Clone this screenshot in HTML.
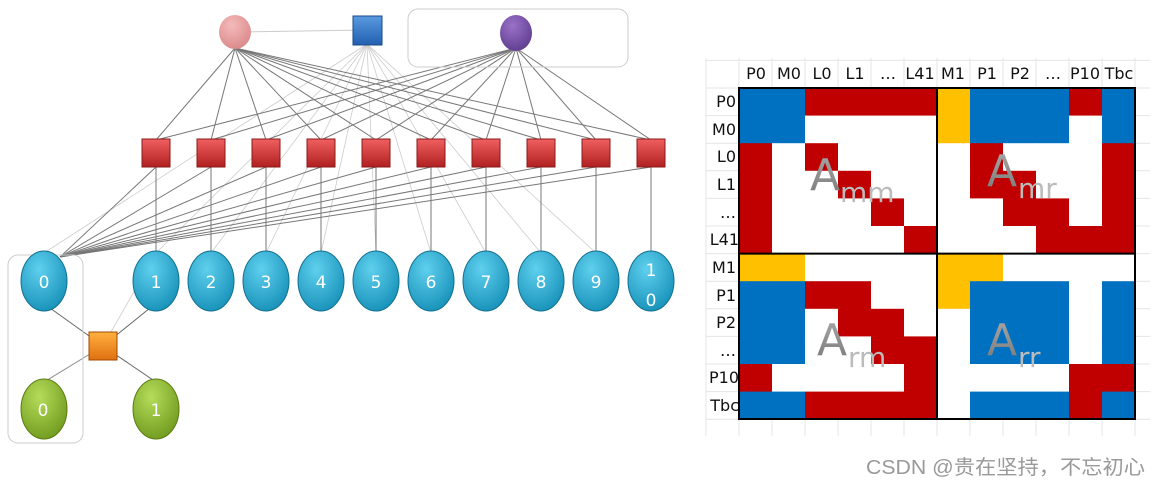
<!DOCTYPE html>
<html><head><meta charset="utf-8"><style>
html,body{margin:0;padding:0;background:#fff;width:1162px;height:486px;overflow:hidden}
svg{display:block}
text{font-family:"DejaVu Sans","Liberation Sans",sans-serif}
</style></head><body>
<svg id="s" width="1162" height="486" viewBox="0 0 1162 486" xmlns="http://www.w3.org/2000/svg">
<defs>
<radialGradient id="gc" cx="40%" cy="30%" r="75%"><stop offset="0" stop-color="#5fd0ee"/><stop offset="1" stop-color="#1690b8"/></radialGradient>
<radialGradient id="gg" cx="40%" cy="30%" r="75%"><stop offset="0" stop-color="#b6dc5a"/><stop offset="1" stop-color="#6f9a1e"/></radialGradient>
<radialGradient id="gp" cx="40%" cy="30%" r="75%"><stop offset="0" stop-color="#f5baba"/><stop offset="1" stop-color="#d98888"/></radialGradient>
<radialGradient id="gv" cx="40%" cy="30%" r="75%"><stop offset="0" stop-color="#9a72c8"/><stop offset="1" stop-color="#5e3c8e"/></radialGradient>
<linearGradient id="gr" x1="0" y1="0" x2="0" y2="1"><stop offset="0" stop-color="#f06060"/><stop offset="1" stop-color="#b02020"/></linearGradient>
<linearGradient id="gb" x1="0" y1="0" x2="0" y2="1"><stop offset="0" stop-color="#5a9ae0"/><stop offset="1" stop-color="#2060b0"/></linearGradient>
<linearGradient id="go" x1="0" y1="0" x2="0" y2="1"><stop offset="0" stop-color="#ffb040"/><stop offset="1" stop-color="#e07010"/></linearGradient>
<linearGradient id="ga" x1="0" y1="0" x2="0" y2="1"><stop offset="0" stop-color="#aaa"/><stop offset="1" stop-color="#777"/></linearGradient>
</defs>
<g id="grid"></g>
<g id="cells"></g>
<g id="lines"></g>
<rect x="408" y="9" width="220" height="58" rx="10" fill="none" stroke="#ccc"/>
<rect x="8" y="255" width="75" height="188" rx="10" fill="none" stroke="#ccc"/>
<g id="nodes"></g>
<g font-size="17" fill="#fff" text-anchor="middle">
<text x="44" y="288">0</text><text x="156" y="288">1</text><text x="211" y="288">2</text><text x="266" y="288">3</text><text x="321" y="288">4</text><text x="376" y="288">5</text><text x="431" y="288">6</text><text x="486" y="288">7</text><text x="541" y="288">8</text><text x="596" y="288">9</text><text x="651" y="276">1</text><text x="651" y="306">0</text>
<text x="43" y="416">0</text><text x="156" y="416">1</text>
</g>
<g font-size="16" fill="#111" text-anchor="middle">
<text x="756" y="79">P0</text><text x="789" y="79">M0</text><text x="822" y="79">L0</text><text x="855" y="79">L1</text><text x="888" y="79">…</text><text x="920" y="79">L41</text><text x="953" y="79">M1</text><text x="987" y="79">P1</text><text x="1020" y="79">P2</text><text x="1053" y="79">…</text><text x="1085" y="79">P10</text><text x="1119" y="79">Tbc</text>
</g>
<g font-size="16" fill="#111" text-anchor="end">
<text x="736" y="107">P0</text><text x="736" y="135">M0</text><text x="736" y="162">L0</text><text x="736" y="190">L1</text><text x="736" y="218">…</text><text x="739" y="245">L41</text><text x="736" y="273">M1</text><text x="736" y="301">P1</text><text x="736" y="328">P2</text><text x="736" y="356">…</text><text x="739" y="383">P10</text><text x="739" y="411">Tbc</text>
</g>
<g fill="url(#ga)">
<text x="810" y="190" font-size="44">A</text><text x="840" y="202" font-size="28" fill="#bbb">mm</text>
<text x="987" y="186" font-size="44">A</text><text x="1018" y="198" font-size="28" fill="#bbb">mr</text>
<text x="817" y="355" font-size="44">A</text><text x="848" y="367" font-size="28" fill="#bbb">rm</text>
<text x="987" y="355" font-size="44">A</text><text x="1018" y="367" font-size="28" fill="#bbb">rr</text>
</g>
<text x="866" y="474" font-size="20" textLength="279" lengthAdjust="spacingAndGlyphs" fill="#999" style='font-family:"Liberation Sans","Noto Sans CJK SC",sans-serif'>CSDN @贵在坚持，不忘初心</text>
</svg>
<script>
var NS="http://www.w3.org/2000/svg";
function el(p,t,a){var e=document.createElementNS(NS,t);for(var k in a)e.setAttribute(k,a[k]);document.getElementById(p).appendChild(e);return e;}
function L(x1,y1,x2,y2,c,w){el("lines","line",{x1:x1,y1:y1,x2:x2,y2:y2,stroke:c,"stroke-width":w||1});}
var rx=[156,211,266,321,376,431,486,541,596,651];
var cx=[44,156,211,266,321,376,431,486,541,596,651];
L(235,32,367,30,"#ccc");
for(var i=0;i<10;i++)L(367,44,cx[i],253,"#ccc",0.8);
L(156,253,103,346,"#ccc",0.8);
for(var i=0;i<10;i++){L(235,48,rx[i],140,"#777");L(516,48,rx[i],140,"#777");
 L(rx[i],167,cx[i+1],252,"#777");L(rx[i],167,60,257,"#777");}
L(50,308,103,346,"#666");L(150,308,103,346,"#666");L(103,346,44,382,"#888");L(103,346,156,382,"#666");
el("nodes","ellipse",{cx:235,cy:32,rx:16,ry:17,fill:"url(#gp)"});
el("nodes","rect",{x:353,y:16,width:29,height:29,fill:"url(#gb)",stroke:"#1a4a8a"});
el("nodes","ellipse",{cx:516,cy:33,rx:16,ry:18,fill:"url(#gv)"});
for(var i=0;i<10;i++)el("nodes","rect",{x:rx[i]-14,y:139,width:28,height:28,fill:"url(#gr)",stroke:"#8a1a1a"});
for(var i=0;i<11;i++)el("nodes","ellipse",{cx:cx[i],cy:281,rx:23,ry:30,fill:"url(#gc)",stroke:"#127090"});
el("nodes","rect",{x:89,y:332,width:28,height:28,fill:"url(#go)",stroke:"#a04a00"});
el("nodes","ellipse",{cx:44,cy:409,rx:23,ry:30,fill:"url(#gg)",stroke:"#5a7a10"});
el("nodes","ellipse",{cx:156,cy:409,rx:23,ry:30,fill:"url(#gg)",stroke:"#5a7a10"});
var X0=739,Y0=88,CW=33,RH=27.6;
for(var k=-1;k<=12;k++){el("grid","line",{x1:X0+k*CW,y1:58,x2:X0+k*CW,y2:436,stroke:"#e4e4e4"});}
for(var k=-1;k<=12;k++){el("grid","line",{x1:706,y1:Y0+k*RH,x2:1150,y2:Y0+k*RH,stroke:"#e4e4e4"});}
var M=["BBRRRRYBBBRB","BBWWWWYBBBWB","RWRWWWWRWWWR","RWWRWWWRRWWR","RWWWRWWWRRWR","RWWWWRWWWRRR",
"YYWWWWYYWWWW","BBRRWWYBBBWB","BBWRRWWBBBWB","BBWWRRWBBBWB","RWWWWRWWWWRR","BBRRRRWBBBRB"];
var C={B:"#0070C0",R:"#C00000",Y:"#FFC000",W:"#fff"};
for(var r=0;r<12;r++)for(var c=0;c<12;c++)el("cells","rect",{x:X0+c*CW,y:Y0+r*RH,width:CW+0.5,height:RH+0.5,fill:C[M[r][c]]});
el("cells","rect",{x:X0,y:Y0,width:396,height:331,fill:"none",stroke:"#000","stroke-width":2});
el("cells","line",{x1:X0+198,y1:Y0,x2:X0+198,y2:Y0+331,stroke:"#000","stroke-width":2});
el("cells","line",{x1:X0,y1:Y0+6*RH,x2:X0+396,y2:Y0+6*RH,stroke:"#000","stroke-width":2});
</script>
</body></html>
